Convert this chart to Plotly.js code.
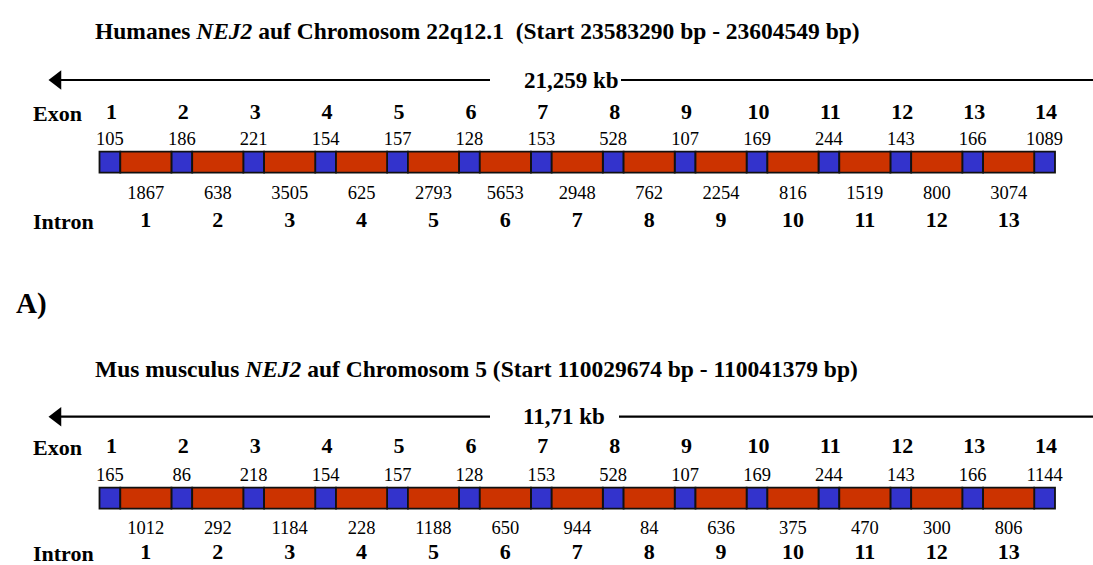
<!DOCTYPE html>
<html>
<head>
<meta charset="utf-8">
<script src="https://cdn.plot.ly/plotly-3.0.1.min.js"></script>
<style>
  html, body { margin: 0; padding: 0; background: #fff; }
  #chart { width: 1093px; height: 565px; }
</style>
</head>
<body>
<div id="chart"></div>
<script>
// ---------------- DATA ----------------
const exonNumbers = ["1","2","3","4","5","6","7","8","9","10","11","12","13","14"];
const intronNumbers = ["1","2","3","4","5","6","7","8","9","10","11","12","13"];

const humanTitle = "<b>Humanes <i>NEJ2</i> auf Chromosom 22q12.1  (Start 23583290 bp - 23604549 bp)</b>";
const humanLength = "21,259 kb";
const humanExonBp = [105, 186, 221, 154, 157, 128, 153, 528, 107, 169, 244, 143, 166, 1089];
const humanIntronBp = [1867, 638, 3505, 625, 2793, 5653, 2948, 762, 2254, 816, 1519, 800, 3074];

const mouseTitle = "<b>Mus musculus <i>NEJ2</i> auf Chromosom 5 (Start 110029674 bp - 110041379 bp)</b>";
const mouseLength = "11,71 kb";
const mouseExonBp = [165, 86, 218, 154, 157, 128, 153, 528, 107, 169, 244, 143, 166, 1144];
const mouseIntronBp = [1012, 292, 1184, 228, 1188, 650, 944, 84, 636, 375, 470, 300, 806];

const panelLabel = "A)";

// ---------------- LAYOUT GEOMETRY (schematic, not data) ----------------
const W = 1093, H = 565;
const X0 = 99.5, PERIOD = 71.9, EXON_W = 20.8;
const BLUE = "#3333CC", RED = "#CC3300";
const FONT = "Liberation Serif";

const panels = [
  { title: humanTitle, len: humanLength, exBp: humanExonBp, inBp: humanIntronBp,
    yTitle: 31, yArrow: 80, yExNum: 113, yExBp: 140, yBar: 162.2, yInBp: 194, yInNum: 221.5,
    lenX: 571.5, rightStart: 621 },
  { title: mouseTitle, len: mouseLength, exBp: mouseExonBp, inBp: mouseIntronBp,
    yTitle: 369, yArrow: 416.7, yExNum: 447.3, yExBp: 476, yBar: 498.2, yInBp: 529.3, yInNum: 553.5,
    lenX: 564, rightStart: 619 }
];

const exonStart = i => X0 + i * PERIOD;
const intronStart = i => X0 + i * PERIOD + EXON_W;
const intronW = PERIOD - EXON_W;

const traces = [];
const annotations = [];

panels.forEach(p => {
  traces.push({
    type: "bar", orientation: "h",
    base: p.exBp.map((_, i) => exonStart(i)),
    x: p.exBp.map(() => EXON_W),
    y: p.exBp.map(() => p.yBar),
    width: 21,
    marker: { color: BLUE, line: { color: "#111", width: 1.8 } },
    hoverinfo: "skip", showlegend: false
  });
  traces.push({
    type: "bar", orientation: "h",
    base: p.inBp.map((_, i) => intronStart(i)),
    x: p.inBp.map(() => intronW),
    y: p.inBp.map(() => p.yBar),
    width: 21,
    marker: { color: RED, line: { color: "#111", width: 1.8 } },
    hoverinfo: "skip", showlegend: false
  });
  traces.push({
    type: "scatter", mode: "text", cliponaxis: false,
    x: exonNumbers.map((_, i) => exonStart(i) + EXON_W / 2 + 1.5),
    y: exonNumbers.map(() => p.yExNum),
    text: exonNumbers,
    textfont: { family: FONT, size: 22, color: "#000", weight: "bold" },
    hoverinfo: "skip", showlegend: false
  });
  traces.push({
    type: "scatter", mode: "text", cliponaxis: false,
    x: p.exBp.map((_, i) => exonStart(i) + EXON_W / 2),
    y: p.exBp.map(() => p.yExBp),
    text: p.exBp.map(String),
    textfont: { family: FONT, size: 18.5, color: "#000" },
    hoverinfo: "skip", showlegend: false
  });
  traces.push({
    type: "scatter", mode: "text", cliponaxis: false,
    x: p.inBp.map((_, i) => intronStart(i) + intronW / 2),
    y: p.inBp.map(() => p.yInBp),
    text: p.inBp.map(String),
    textfont: { family: FONT, size: 18.5, color: "#000" },
    hoverinfo: "skip", showlegend: false
  });
  traces.push({
    type: "scatter", mode: "text", cliponaxis: false,
    x: intronNumbers.map((_, i) => intronStart(i) + intronW / 2),
    y: intronNumbers.map(() => p.yInNum),
    text: intronNumbers,
    textfont: { family: FONT, size: 22, color: "#000", weight: "bold" },
    hoverinfo: "skip", showlegend: false
  });
  traces.push({
    type: "scatter", mode: "lines", cliponaxis: false,
    x: [56, 490, null, p.rightStart, 1093],
    y: [p.yArrow, p.yArrow, null, p.yArrow, p.yArrow],
    line: { color: "#000", width: 2.2 },
    hoverinfo: "skip", showlegend: false
  });
  traces.push({
    type: "scatter", mode: "markers", cliponaxis: false,
    x: [57, 1098],
    y: [p.yArrow, p.yArrow],
    marker: { symbol: ["triangle-left", "triangle-right"], size: 17, color: "#000" },
    hoverinfo: "skip", showlegend: false
  });

  annotations.push({
    xref: "x", yref: "y", x: 93, y: p.yTitle, xanchor: "left", yanchor: "middle",
    text: p.title, showarrow: false, font: { family: FONT, size: 23.5, color: "#000" }
  });
  annotations.push({
    xref: "x", yref: "y", x: p.lenX, y: p.yArrow, xanchor: "center", yanchor: "middle",
    text: "<b>" + p.len + "</b>", showarrow: false, font: { family: FONT, size: 23, color: "#000" }
  });
  annotations.push({
    xref: "x", yref: "y", x: 57, y: p.yExNum, xanchor: "center", yanchor: "middle",
    text: "<b>Exon</b>", showarrow: false, borderpad: 0, font: { family: FONT, size: 22, color: "#000" }
  });
  annotations.push({
    xref: "x", yref: "y", x: 63, y: p.yInNum, xanchor: "center", yanchor: "middle",
    text: "<b>Intron</b>", showarrow: false, borderpad: 0, font: { family: FONT, size: 22, color: "#000" }
  });
});

annotations.push({
  xref: "x", yref: "y", x: 14, y: 303, xanchor: "left", yanchor: "middle",
  text: "<b>" + panelLabel + "</b>", showarrow: false, font: { family: FONT, size: 29, color: "#000" }
});

const layout = {
  width: W, height: H,
  margin: { l: 0, r: 0, t: 0, b: 0, pad: 0 },
  paper_bgcolor: "#fff", plot_bgcolor: "#fff",
  barmode: "overlay",
  showlegend: false,
  xaxis: { range: [0, W], visible: false, fixedrange: true },
  yaxis: { range: [H, 0], visible: false, fixedrange: true },
  annotations: annotations
};

Plotly.newPlot("chart", traces, layout, { displayModeBar: false, staticPlot: true });
</script>
</body>
</html>
